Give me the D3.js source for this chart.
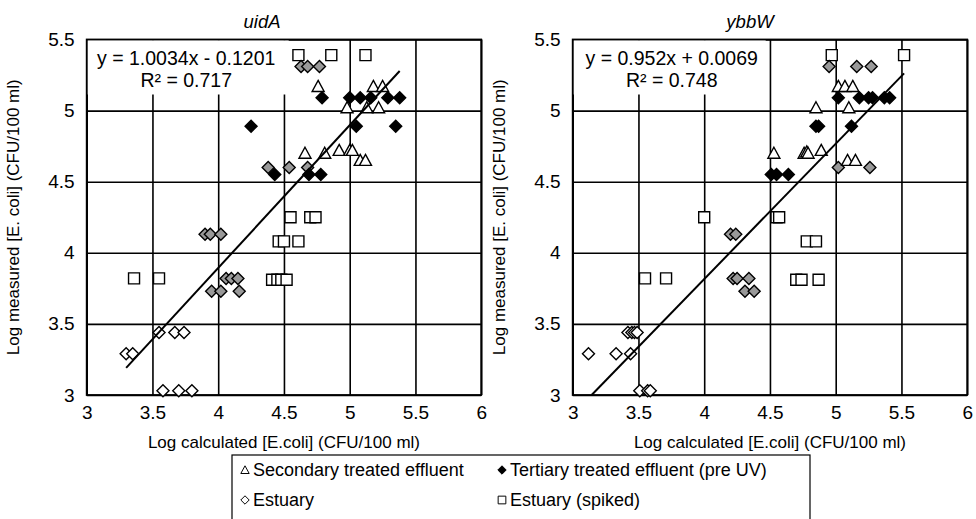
<!DOCTYPE html>
<html>
<head>
<meta charset="utf-8">
<script src="https://cdn.jsdelivr.net/npm/d3@7"></script>
<style>
  body { margin: 0; background: #fff; }
  svg { font-family: "Liberation Sans", Arial, sans-serif; }
</style>
</head>
<body>
<div id="chart"></div>
<script>
// ---- data (log calculated, log measured) ----
const xTicks = [3, 3.5, 4, 4.5, 5, 5.5, 6];
const yTicks = [3, 3.5, 4, 4.5, 5, 5.5];

// uidA panel
const uidaSecondary = [
    [4.76, 5.17], [5.18, 5.17], [5.25, 5.17],
    [4.98, 5.02], [5.13, 5.02], [5.22, 5.02],
    [4.66, 4.70], [4.81, 4.70], [4.92, 4.72], [5.00, 4.72], [5.02, 4.72],
    [5.08, 4.65], [5.12, 4.65]
];
const uidaTertiary = [
    [4.25, 4.89], [4.43, 4.55], [4.69, 4.55], [4.78, 4.55],
    [4.79, 5.09], [5.00, 5.09], [5.08, 5.09], [5.16, 5.09], [5.29, 5.09], [5.38, 5.09],
    [5.05, 4.89], [5.35, 4.89]
];
const uidaEstuaryGrey = [
    [4.63, 5.31], [4.68, 5.31], [4.77, 5.31],
    [4.38, 4.60], [4.54, 4.60], [4.68, 4.60],
    [3.90, 4.13], [3.94, 4.13], [4.02, 4.13],
    [4.06, 3.82], [4.10, 3.82], [4.15, 3.82],
    [3.95, 3.73], [4.02, 3.73], [4.16, 3.73]
];
const uidaEstuary = [
    [3.55, 3.44], [3.67, 3.44], [3.74, 3.44],
    [3.30, 3.29], [3.35, 3.29],
    [3.58, 3.03], [3.70, 3.03], [3.80, 3.03]
];
const uidaSpiked = [
    [4.61, 5.39], [4.86, 5.39], [5.12, 5.39],
    [4.55, 4.25], [4.70, 4.25], [4.74, 4.25],
    [4.46, 4.08], [4.50, 4.08], [4.61, 4.08],
    [3.36, 3.82], [3.55, 3.82],
    [4.41, 3.81], [4.45, 3.81], [4.48, 3.81], [4.52, 3.81]
];

// ybbW panel
const ybbwSecondary = [
    [5.02, 5.17], [5.07, 5.17], [5.13, 5.17],
    [4.85, 5.02], [5.10, 5.02],
    [4.53, 4.70], [4.76, 4.70], [4.78, 4.71], [4.79, 4.70], [4.89, 4.72],
    [5.09, 4.65], [5.15, 4.65]
];
const ybbwTertiary = [
    [4.51, 4.55], [4.55, 4.55], [4.64, 4.55],
    [5.02, 5.09], [5.18, 5.09], [5.25, 5.09], [5.28, 5.09], [5.37, 5.09], [5.41, 5.09],
    [4.85, 4.89], [4.87, 4.89], [5.12, 4.89]
];
const ybbwEstuaryGrey = [
    [4.95, 5.31], [5.16, 5.31], [5.27, 5.31],
    [5.02, 4.60], [5.26, 4.60],
    [4.20, 4.13], [4.24, 4.13],
    [4.22, 3.82], [4.25, 3.82], [4.34, 3.82],
    [4.31, 3.73], [4.38, 3.73]
];
const ybbwEstuary = [
    [3.42, 3.44], [3.45, 3.44], [3.47, 3.44], [3.49, 3.44],
    [3.12, 3.29], [3.33, 3.29], [3.44, 3.29],
    [3.51, 3.03], [3.57, 3.03], [3.59, 3.03]
];
const ybbwSpiked = [
    [4.97, 5.39], [5.52, 5.39],
    [4.00, 4.25], [4.55, 4.25], [4.57, 4.25],
    [4.78, 4.08], [4.85, 4.08],
    [3.55, 3.82], [3.71, 3.82],
    [4.70, 3.81], [4.74, 3.81], [4.87, 3.81]
];

const fits = {
    uidA: {slope: 1.0034, intercept: -0.1201, r2: '0.717', eq: 'y = 1.0034x - 0.1201'},
    ybbW: {slope: 0.952, intercept: 0.0069, r2: '0.748', eq: 'y = 0.952x + 0.0069'}
};

const legendLabels = [
    'Secondary treated effluent', 'Tertiary treated effluent (pre UV)',
    'Estuary', 'Estuary (spiked)'
];

// ---- marker shapes ----
const shapes = {
    triangle: 'M0,-6L6,5L-6,5Z',
    diamond: 'M0,-6L6,0L0,6L-6,0Z',
    square: 'M-5.5,-5.5H5.5V5.5H-5.5Z'
};

const width = 976, height = 519;
const svg = d3.select('#chart').append('svg')
    .attr('width', width)
    .attr('height', height);

const plotW = 394.5, plotH = 355.5, plotTop = 39.5;

function drawPanel(opts) {
    const g = svg.append('g').attr('transform', `translate(${opts.left},${plotTop})`);

    const x = d3.scaleLinear().domain([3, 6]).range([0, plotW]);
    const y = d3.scaleLinear().domain([3, 5.5]).range([plotH, 0]);

    // grid + tick labels
    g.append('g')
        .attr('transform', `translate(0,${plotH})`)
        .call(d3.axisBottom(x).tickValues(xTicks).tickSize(-plotH).tickPadding(11).tickFormat(d3.format('')))
        .call(a => a.select('.domain').remove())
        .call(a => a.selectAll('line').attr('stroke', '#000').attr('stroke-width', 1.6))
        .call(a => a.selectAll('text').attr('font-size', 19).attr('fill', '#000'));

    g.append('g')
        .call(d3.axisLeft(y).tickValues(yTicks).tickSize(-plotW).tickPadding(12).tickFormat(d3.format('')))
        .call(a => a.select('.domain').remove())
        .call(a => a.selectAll('line').attr('stroke', '#000').attr('stroke-width', 1.6))
        .call(a => a.selectAll('text').attr('font-size', 19).attr('fill', '#000'));

    g.append('rect')
        .attr('width', plotW).attr('height', plotH)
        .attr('fill', 'none').attr('stroke', '#000').attr('stroke-width', 1.8);

    // equation label with white background
    const fit = fits[opts.name];
    g.append('rect')
        .attr('x', 1).attr('y', 1)
        .attr('width', opts.boxW).attr('height', 54)
        .attr('fill', '#fff');
    const eq = g.append('text')
        .attr('text-anchor', 'middle')
        .attr('font-size', 19.5).attr('fill', '#000');
    eq.append('tspan').attr('x', opts.eqX).attr('y', 25.5).text(fit.eq);
    eq.append('tspan').attr('x', opts.eqX).attr('y', 47.5).text('R\u00B2 = ' + fit.r2);

    const markers = (data, shape, fill) => {
        g.append('g').selectAll('path')
            .data(data)
            .join('path')
            .attr('d', shapes[shape])
            .attr('transform', d => `translate(${x(d[0])},${y(d[1])})`)
            .attr('fill', fill)
            .attr('stroke', '#000')
            .attr('stroke-width', 1.4);
    };
    markers(opts.spiked, 'square', '#fff');
    markers(opts.estuary, 'diamond', '#fff');
    markers(opts.grey, 'diamond', '#999');
    markers(opts.secondary, 'triangle', '#fff');
    markers(opts.tertiary, 'diamond', '#000');

    // linear trendline across data range, clipped to the plot
    const all = [].concat(opts.spiked, opts.estuary, opts.grey, opts.secondary, opts.tertiary);
    const xMin = Math.max(d3.min(all, d => d[0]), (3 - fit.intercept) / fit.slope);
    const xMax = d3.max(all, d => d[0]);
    g.append('line')
        .attr('x1', x(xMin)).attr('y1', y(fit.slope * xMin + fit.intercept))
        .attr('x2', x(xMax)).attr('y2', y(fit.slope * xMax + fit.intercept))
        .attr('stroke', '#000').attr('stroke-width', 2);

    // titles
    svg.append('text')
        .attr('x', opts.titleX).attr('y', 28)
        .attr('text-anchor', 'middle')
        .attr('font-size', 18.5).attr('font-style', 'italic')
        .text(opts.name);

    svg.append('text')
        .attr('x', opts.left + plotW / 2).attr('y', 448)
        .attr('text-anchor', 'middle')
        .attr('font-size', 17)
        .text('Log calculated [E.coli] (CFU/100 ml)');

    svg.append('text')
        .attr('transform', `translate(${opts.left - 68},${plotTop + plotH / 2}) rotate(-90)`)
        .attr('text-anchor', 'middle')
        .attr('font-size', 17)
        .text('Log measured [E. coli] (CFU/100 ml)');
}

drawPanel({
    name: 'uidA', left: 86.7, titleX: 262, eqX: 99.5, boxW: 201,
    secondary: uidaSecondary, tertiary: uidaTertiary, grey: uidaEstuaryGrey,
    estuary: uidaEstuary, spiked: uidaSpiked
});
drawPanel({
    name: 'ybbW', left: 572.7, titleX: 750, eqX: 99, boxW: 192,
    secondary: ybbwSecondary, tertiary: ybbwTertiary, grey: ybbwEstuaryGrey,
    estuary: ybbwEstuary, spiked: ybbwSpiked
});

// legend (box runs past the bottom edge, as in the original)
const legend = svg.append('g').attr('transform', 'translate(232,455)');
legend.append('rect')
    .attr('width', 578).attr('height', 90)
    .attr('fill', '#fff').attr('stroke', '#000').attr('stroke-width', 1.2);

const legendShapes = [
    {shape: 'triangle', fill: '#fff'}, {shape: 'diamond', fill: '#000'},
    {shape: 'diamond', fill: '#fff'}, {shape: 'square', fill: '#fff'}
];
const item = legend.selectAll('g.item')
    .data(legendLabels)
    .join('g')
    .attr('class', 'item')
    .attr('transform', (d, i) => `translate(${i % 2 ? 270 : 13},${i < 2 ? 15 : 45})`);
item.append('path')
    .attr('d', (d, i) => shapes[legendShapes[i].shape])
    .attr('transform', 'scale(0.7)')
    .attr('fill', (d, i) => legendShapes[i].fill)
    .attr('stroke', '#000').attr('stroke-width', 1.4);
item.append('text')
    .attr('x', 8).attr('dy', '0.35em')
    .attr('font-size', 18)
    .text(d => d);
</script>
</body>
</html>
